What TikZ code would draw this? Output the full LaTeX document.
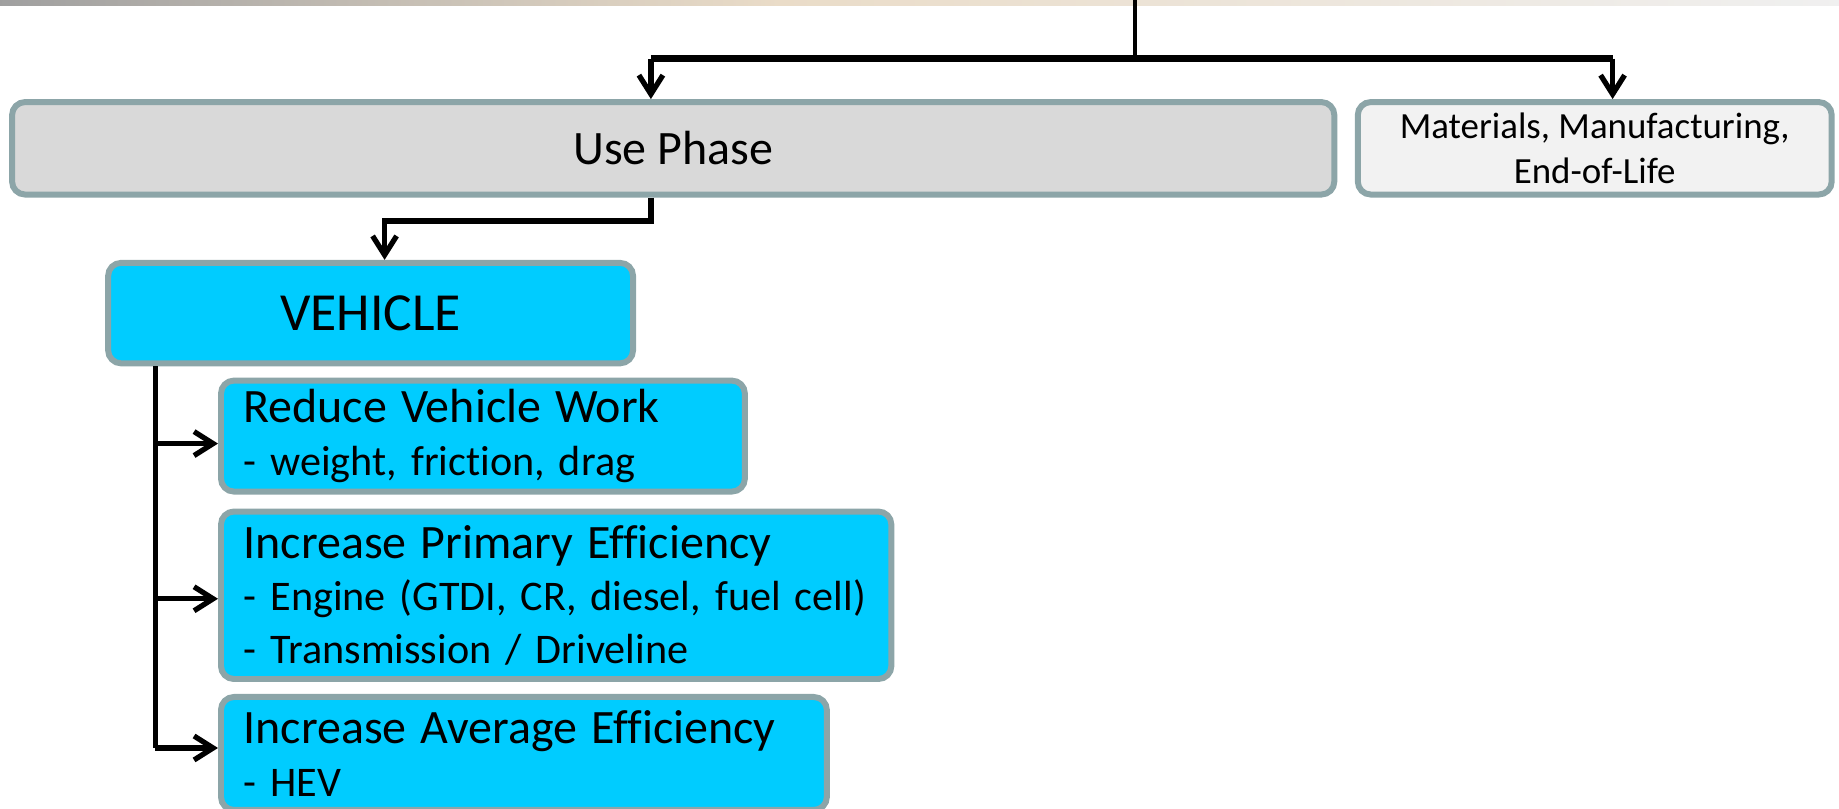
\documentclass[tikz,border=0pt]{standalone}
\usepackage{fontspec}
\setmainfont{Carlito}[Ligatures=CommonOff]
\usepackage{xcolor}
\usetikzlibrary{arrows.meta, positioning}

\definecolor{boxedge}{HTML}{8CA5A8}
\definecolor{phasefill}{HTML}{D9D9D9}
\definecolor{palefill}{HTML}{F2F2F2}
\definecolor{vehcyan}{HTML}{00CCFF}
\definecolor{stripbeige}{HTML}{EADCC8}

\newcommand{\titlesize}{\fontsize{27.3}{31}\selectfont}
\newcommand{\itemsize}{\fontsize{24}{30}\selectfont}

\begin{document}
\begin{tikzpicture}[
    x=0.02cm, y=-0.02cm,
    box/.style={
        draw=boxedge,
        line width=3.4pt,
        rounded corners=0.26cm,
        align=center
    },
    subbox/.style={
        box,
        fill=vehcyan,
        align=left,
        inner xsep=0.45cm,
        font=\itemsize
    },
    wire/.style={line width=3pt},
    arrow/.style={wire, -{Straight Barb[length=0.38cm, width=0.48cm]}}
]
\useasboundingbox (0,0) rectangle (1839,808);

% ===== Top strip =====
\shade[left color=gray!75, right color=stripbeige] (0,0) rectangle (780,5.5);
\shade[left color=stripbeige, right color=gray!12] (780,0) rectangle (1839,5.5);

% ===== Phases =====
\node[box, fill=phasefill, minimum width=26.45cm, minimum height=1.85cm,
      font=\titlesize] (usephase) at (673.2,148.3) {Use Phase};

\node[box, fill=palefill, minimum width=9.48cm, minimum height=1.85cm,
      font=\fontsize{21}{25.5}\selectfont, right=0.35cm of usephase] (materials)
      {Materials, Manufacturing,\\End-of-Life};

% ===== Vehicle =====
\node[box, fill=vehcyan, minimum width=10.5cm, minimum height=2.01cm,
      font=\fontsize{30.5}{34}\selectfont] (vehicle) at (370.6,313.1) {VEHICLE};

\node[subbox, text width=9.58cm, minimum height=2.22cm, anchor=north west]
      (reduce) at (218,377.6)
      {{\titlesize Reduce Vehicle Work}\\- weight, friction, drag};

\node[subbox, text width=12.51cm, minimum height=3.35cm,
      below=0.28cm of reduce.south west, anchor=north west] (primary)
      {{\titlesize Increase Primary Efficiency}\\- Engine (GTDI, CR, diesel, fuel cell)\\- Transmission / Driveline};

\node[subbox, text width=11.22cm, minimum height=2.26cm,
      below=0.24cm of primary.south west, anchor=north west] (average)
      {{\titlesize Increase Average Efficiency}\\- HEV};

% ===== Connectors =====
\coordinate (top) at (1135.3,0);
\coordinate (split) at (1135.3,58.6);
\coordinate (busL) at (650.9,58.6);
\coordinate (busR) at (1612.6,58.6);

\draw[line width=2.4pt] (top) -- (split);
\draw[line width=4pt] (busL) -- (busR);
\draw[arrow] (busL) -- (usephase.north -| busL);
\draw[arrow] (busR) -- (materials.north -| busR);

\draw[arrow] (usephase.south -| busL) -- ++(0,-0.47cm)
    -| ([xshift=0.28cm]vehicle.north);

\coordinate (trunk) at ([xshift=1cm]vehicle.south west);
\coordinate (avgin) at ([yshift=-1.08cm]average.north west);
\draw[wire] (trunk) -- (trunk |- avgin);
\draw[arrow] ([yshift=-0.15cm]trunk |- reduce.west) -- ([yshift=-0.15cm]reduce.west);
\draw[arrow] ([yshift=-0.07cm]trunk |- primary.west) -- ([yshift=-0.07cm]primary.west);
\draw[arrow] (trunk |- avgin) -- (avgin);

\end{tikzpicture}
\end{document}
